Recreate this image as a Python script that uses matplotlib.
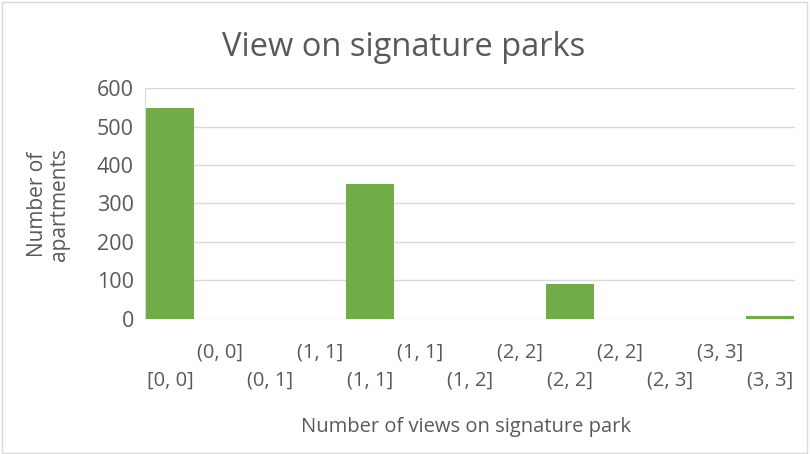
import matplotlib.pyplot as plt
from matplotlib.patches import Rectangle

bins = ["[0, 0]", "(0, 0]", "(0, 1]", "(1, 1]", "(1, 1]", "(1, 1]", "(1, 2]",
        "(2, 2]", "(2, 2]", "(2, 2]", "(2, 3]", "(3, 3]", "(3, 3]"]
counts = [547, 0, 0, 0, 350, 0, 0, 0, 90, 0, 0, 0, 7]
yticks = [0, 100, 200, 300, 400, 500, 600]

TEXT = "#595959"
GRID = "#d9d9d9"
BAR = "#70ad47"

plt.rcParams["font.family"] = ["Open Sans", "DejaVu Sans"]

fig = plt.figure(figsize=(8.1, 4.54), dpi=100)
ax = fig.add_axes([0.179, 0.298, 0.803, 0.508])

x = list(range(len(bins)))
ax.bar(x, counts, width=0.96, color=BAR, zorder=3)
ax.set_xlim(-0.5, len(bins) - 0.5)
ax.set_ylim(0, 600)
ax.set_yticks(yticks)
ax.tick_params(axis="y", length=0, labelsize=15.5, colors=TEXT, pad=8)
ax.grid(axis="y", color=GRID, linewidth=1, zorder=0)

ax.set_xticks(x)
ax.set_xticklabels([""] * len(bins))
ax.tick_params(axis="x", length=0)
for i, lab in enumerate(bins):
    yoff = -0.145 if i % 2 else -0.27
    ax.text(i, yoff, lab, transform=ax.get_xaxis_transform(), ha="center",
            va="center", fontsize=14.5, color=TEXT)

for s in ["top", "right", "bottom"]:
    ax.spines[s].set_visible(False)
ax.spines["left"].set_color(GRID)

fig.text(0.06, 0.55, "Number of\napartments", rotation=90, ha="center",
         va="center", fontsize=15, color=TEXT, linespacing=1.05)
fig.text(0.575, 0.059, "Number of views on signature park", ha="center",
         va="center", fontsize=14.5, color=TEXT)
fig.text(0.498, 0.895, "View on signature parks", ha="center", va="center",
         fontsize=23.5, color=TEXT)

fig.patches.append(Rectangle((0.002, 0.003), 0.994, 0.992, transform=fig.transFigure,
                             fill=False, edgecolor=GRID, linewidth=1))

fig.savefig("out.png", dpi=100)
